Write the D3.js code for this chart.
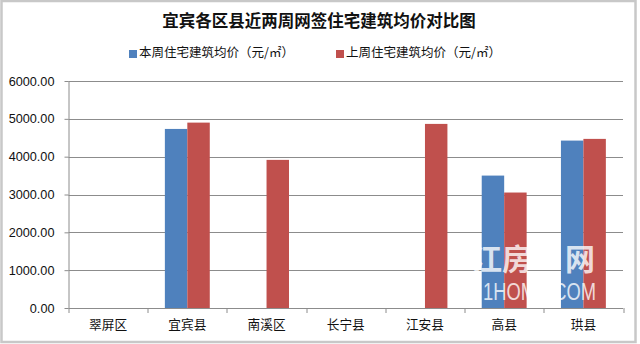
<!DOCTYPE html>
<html>
<head>
<meta charset="utf-8">
<script src="https://cdn.jsdelivr.net/npm/d3@7"></script>
<style>
  body { margin: 0; background: #fff; }
  svg { display: block; }
  .tick text { font-family: "Liberation Sans", Arial, sans-serif; }
</style>
</head>
<body>
<div id="chart"></div>
<script>
// data
var categories = ["翠屏区", "宜宾县", "南溪区", "长宁县", "江安县", "高县", "珙县"];
var thisWeek = [null, 4733, null, null, null, 3500, 4425];
var lastWeek = [null, 4900, 3915, null, 4866, 3052, 4470];
var seriesNames = ["本周住宅建筑均价（元/㎡）", "上周住宅建筑均价（元/㎡）"];
var yTicks = [0, 1000, 2000, 3000, 4000, 5000, 6000];
var colors = ["#4f81bd", "#c0504d"];

var W = 640, H = 344;
var margin = {top: 81, right: 17, bottom: 36, left: 68.5},
    width = W - margin.left - margin.right,
    height = H - margin.top - margin.bottom;

var svg = d3.select("#chart").append("svg")
    .attr("width", W)
    .attr("height", H);

// outer frame
svg.append("rect")
    .attr("x", 1.5).attr("y", 1)
    .attr("width", 634).attr("height", 341)
    .attr("fill", "#fff")
    .attr("stroke", "#c8c8c8")
    .attr("stroke-width", 2.5);

// title
svg.append("text")
    .attr("x", 319).attr("y", 27)
    .attr("text-anchor", "middle")
    .style("font-family", "'Noto Sans CJK SC', sans-serif")
    .style("font-weight", "bold")
    .style("font-size", "16.5px")
    .attr("fill", "#111")
    .text("宜宾各区县近两周网签住宅建筑均价对比图");

// legend
var legendX = [129, 336];
var legend = svg.selectAll(".legend")
    .data(seriesNames)
    .enter().append("g")
    .attr("class", "legend")
    .attr("transform", function(d, i) { return "translate(" + legendX[i] + ",52)"; });

legend.append("rect")
    .attr("x", 0).attr("y", -2)
    .attr("width", 8).attr("height", 8)
    .attr("fill", function(d, i) { return colors[i]; });

legend.append("text")
    .attr("x", 10).attr("y", 4.5)
    .style("font-family", "'Noto Sans CJK SC', sans-serif")
    .style("font-size", "12.5px")
    .attr("fill", "#111")
    .text(function(d) { return d; });

var g = svg.append("g")
    .attr("transform", "translate(" + margin.left + "," + margin.top + ")");

// scales
var x0 = d3.scaleBand()
    .domain(categories)
    .range([0, width])
    .paddingInner(0.433)
    .paddingOuter(0.2165);

var x1 = d3.scaleBand()
    .domain([0, 1])
    .range([0, x0.bandwidth()]);

var y = d3.scaleLinear()
    .domain([0, 6000])
    .range([height, 0]);

// gridlines
g.selectAll(".grid")
    .data(yTicks.slice(1))
    .enter().append("line")
    .attr("class", "grid")
    .attr("x1", 0).attr("x2", width)
    .attr("y1", function(d) { return Math.round(y(d)) + 0.5; })
    .attr("y2", function(d) { return Math.round(y(d)) + 0.5; })
    .attr("stroke", "#8c8c8c");

// bars
var rows = categories.map(function(c, i) {
    return {cat: c, vals: [thisWeek[i], lastWeek[i]]};
});

var groups = g.selectAll(".group")
    .data(rows)
    .enter().append("g")
    .attr("class", "group")
    .attr("transform", function(d) { return "translate(" + x0(d.cat) + ",0)"; });

groups.selectAll("rect")
    .data(function(d) {
        return d.vals.map(function(v, i) { return {v: v, s: i}; })
            .filter(function(e) { return e.v != null; });
    })
    .enter().append("rect")
    .attr("x", function(d) { return x1(d.s); })
    .attr("width", x1.bandwidth())
    .attr("y", function(d) { return y(d.v); })
    .attr("height", function(d) { return height - y(d.v); })
    .attr("fill", function(d) { return colors[d.s]; });

// watermark
var wm = g.append("g")
    .attr("fill", "#fff")
    .attr("opacity", 0.78)
    .style("font-family", "'Noto Sans CJK SC', sans-serif");
wm.append("text")
    .attr("x", 472 - margin.left).attr("y", 270 - margin.top)
    .style("font-size", "30px")
    .style("font-weight", "bold")
    .text("江房");
wm.append("text")
    .attr("x", 565 - margin.left).attr("y", 270 - margin.top)
    .style("font-size", "30px")
    .style("font-weight", "bold")
    .text("网");
wm.append("text")
    .attr("x", 483 - margin.left).attr("y", 300 - margin.top)
    .attr("textLength", 113)
    .attr("lengthAdjust", "spacingAndGlyphs")
    .style("font-family", "'Liberation Sans', Arial, sans-serif")
    .style("font-size", "23px")
    .text("1HOME.COM");

// y axis
var yAxis = g.append("g")
    .call(d3.axisLeft(y)
        .tickValues(yTicks)
        .tickSize(4)
        .tickPadding(10)
        .tickFormat(function(d) { return d3.format(".2f")(d); }));
yAxis.select(".domain").attr("stroke", "#8c8c8c").attr("d", "M0.5,0V" + height);
yAxis.selectAll(".tick line").attr("stroke", "#8c8c8c");
yAxis.selectAll(".tick text")
    .style("font-size", "12.7px")
    .attr("fill", "#111");

// x axis
var xAxis = g.append("g")
    .attr("transform", "translate(0," + height + ")")
    .call(d3.axisBottom(x0).tickSize(0).tickPadding(12));
xAxis.select(".domain").attr("stroke", "#8c8c8c").attr("d", "M0," + 0.5 + "H" + width);
xAxis.selectAll(".tick text")
    .style("font-family", "'Noto Sans CJK SC', sans-serif")
    .style("font-size", "12.7px")
    .attr("fill", "#111");

// category boundary ticks
var step = x0.step();
g.selectAll(".xtick")
    .data(d3.range(categories.length + 1))
    .enter().append("line")
    .attr("class", "xtick")
    .attr("x1", function(i) { return Math.round(i * step) + 0.5; })
    .attr("x2", function(i) { return Math.round(i * step) + 0.5; })
    .attr("y1", height)
    .attr("y2", height + 5)
    .attr("stroke", "#8c8c8c");
</script>
</body>
</html>
